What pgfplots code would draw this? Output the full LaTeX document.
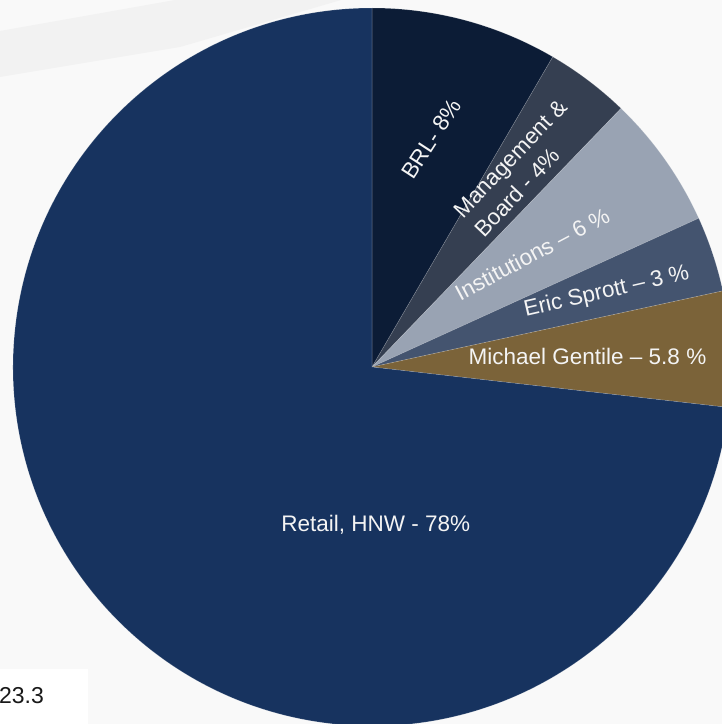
\documentclass[border=0pt]{standalone}
\usepackage{pgfplots}
\usepackage{pgfplotstable}
\pgfplotsset{compat=1.18}
\usepackage{fontspec}
\setmainfont{Liberation Sans}

\definecolor{bgpage}{HTML}{F9F9F9}
\definecolor{bgband}{HTML}{F2F2F2}
\definecolor{cRetail}{HTML}{17335F}
\definecolor{cBRL}{HTML}{0C1C36}
\definecolor{cMgmt}{HTML}{353F51}
\definecolor{cInst}{HTML}{99A3B3}
\definecolor{cEric}{HTML}{44546F}
\definecolor{cGent}{HTML}{7B6339}
\definecolor{lbltext}{HTML}{F4F4F4}

\tikzset{lbl/.style={text=lbltext, inner sep=0pt, anchor=base,
    font=\fontsize{22.5}{27}\selectfont}}

% share of the circle (percent), clockwise from 12 o'clock
\pgfplotstableread{
share colour
8.4   cBRL
3.8   cMgmt
6.0   cInst
3.4   cEric
5.2   cGent
73.2  cRetail
}\holders

\begin{document}
\begin{tikzpicture}
\useasboundingbox (0,0) rectangle (722pt,724pt);
\clip (0,0) rectangle (722pt,724pt);
\fill[bgpage] (0,0) rectangle (722pt,724pt);
\fill[bgband] (0pt,693pt) -- (175pt,724pt) -- (341pt,724pt) -- (180pt,677pt) -- (0pt,647pt) -- cycle;

\begin{axis}[
    x=1pt, y=1pt,
    xmin=-372, xmax=350, ymin=-357, ymax=367,
    hide axis, clip=false,
    at={(372pt,357pt)}, anchor=origin,
]
    \pgfplotstablegetrowsof{\holders}
    \pgfmathtruncatemacro{\lastrow}{\pgfplotsretval-1}
    \def\startangle{90}
    \pgfplotsforeachungrouped \i in {0,...,\lastrow}{%
        \pgfplotstablegetelem{\i}{share}\of\holders
        \let\sliceshare\pgfplotsretval
        \pgfplotstablegetelem{\i}{colour}\of\holders
        \let\slicecolour\pgfplotsretval
        \pgfmathsetmacro{\endangle}{\startangle-3.6*\sliceshare}
        \edef\slice{\noexpand\fill[\slicecolour, draw=white, draw opacity=0.2, line width=0.6pt]
            (0,0) -- ++(\startangle:359pt)
            arc[start angle=\startangle, end angle=\endangle, radius=359pt] -- cycle;}
        \slice
        \let\startangle\endangle
    }

    % labels
    \node[lbl, rotate=57] at (66,224) {BRL- 8\%};
    \node[lbl, rotate=46.5] at (144,203) {Management \&};
    \node[lbl, rotate=46.5] at (151,169) {Board - 4\%};
    \node[lbl, rotate=28] at (164,106) {Institutions – 6 \%};
    \node[lbl, rotate=13] at (236,69) {Eric Sprott – 3 \%};
    \node[lbl] at (215.5,2) {Michael Gentile – 5.8 \%};
    \node[lbl] at (3.8,-165) {Retail, HNW - 78\%};
\end{axis}

\fill[white] (0,0) rectangle (88pt,55pt);
\node[anchor=base east, inner sep=0pt, text=black!90,
    font=\fontsize{23}{28}\selectfont] at (44pt,20pt) {23.3};
\end{tikzpicture}
\end{document}
